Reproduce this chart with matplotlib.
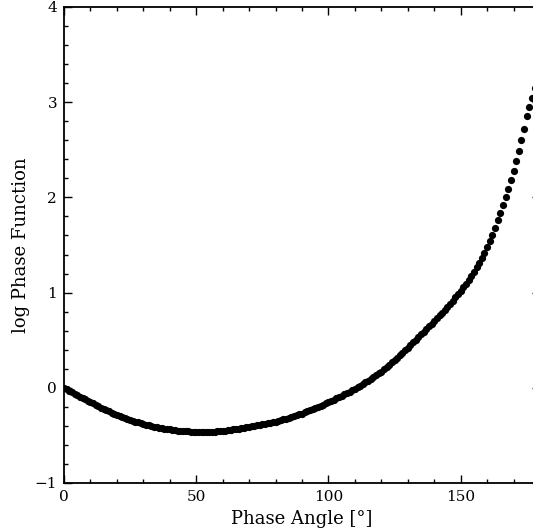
import matplotlib
matplotlib.use("Agg")
import matplotlib.pyplot as plt
from matplotlib.ticker import MultipleLocator

# phase angle in degrees, one point per degree
phase_angle = list(range(0, 179))

# log of the phase function
log_phase = [
    0.000, -0.016, -0.032, -0.047, -0.063, -0.078, -0.093, -0.107, -0.122, -0.136,
    -0.150, -0.164, -0.179, -0.193, -0.207, -0.221, -0.234, -0.247, -0.260, -0.273,
    -0.285, -0.296, -0.307, -0.318, -0.328, -0.338, -0.347, -0.356, -0.364, -0.372,
    -0.380, -0.387, -0.394, -0.401, -0.407, -0.413, -0.419, -0.424, -0.429, -0.434,
    -0.438, -0.442, -0.446, -0.449, -0.452, -0.455, -0.457, -0.459, -0.461, -0.462,
    -0.463, -0.464, -0.465, -0.465, -0.465, -0.464, -0.463, -0.461, -0.459, -0.457,
    -0.455, -0.451, -0.447, -0.442, -0.438, -0.433, -0.428, -0.424, -0.419, -0.415,
    -0.410, -0.405, -0.400, -0.395, -0.390, -0.385, -0.379, -0.373, -0.367, -0.361,
    -0.355, -0.347, -0.339, -0.331, -0.323, -0.315, -0.306, -0.297, -0.288, -0.279,
    -0.270, -0.259, -0.248, -0.237, -0.226, -0.215, -0.202, -0.189, -0.176, -0.163,
    -0.150, -0.137, -0.124, -0.111, -0.098, -0.085, -0.070, -0.055, -0.040, -0.025,
    -0.010, 0.007, 0.024, 0.041, 0.058, 0.075, 0.094, 0.113, 0.132, 0.151,
    0.170, 0.194, 0.218, 0.242, 0.266, 0.290, 0.316, 0.342, 0.368, 0.394,
    0.420, 0.448, 0.476, 0.504, 0.532, 0.560, 0.588, 0.616, 0.644, 0.672,
    0.700, 0.730, 0.760, 0.790, 0.820, 0.850, 0.883, 0.916, 0.949, 0.982,
    1.015, 1.054, 1.094, 1.135, 1.177, 1.220, 1.266, 1.314, 1.364, 1.420,
    1.480, 1.543, 1.610, 1.680, 1.758, 1.840, 1.922, 2.005, 2.092, 2.184,
    2.280, 2.380, 2.485, 2.600, 2.722, 2.850, 2.950, 3.040, 3.150,
]

plt.rcParams["font.family"] = "DejaVu Serif"

fig = plt.figure(figsize=(5.33, 5.31), dpi=100)
# axes run past the right edge of the figure, as in the reference
ax = fig.add_axes([64 / 533, 48 / 531, 476 / 533, 476 / 531])

ax.plot(phase_angle, log_phase, "o", color="black", markersize=5.2,
        markeredgewidth=0)

ax.set_xlim(0, 180)
ax.set_ylim(-1, 4)
ax.xaxis.set_major_locator(MultipleLocator(50))
ax.xaxis.set_minor_locator(MultipleLocator(10))
ax.yaxis.set_major_locator(MultipleLocator(1))
ax.yaxis.set_minor_locator(MultipleLocator(0.2))
ax.tick_params(which="both", direction="in", top=True, right=True,
               labelsize=11, width=1.0)
ax.tick_params(which="major", length=6, pad=5)
ax.tick_params(which="minor", length=3)
for s in ax.spines.values():
    s.set_linewidth(1.3)

ax.set_xlabel("Phase Angle [°]", fontsize=13, labelpad=4)
ax.set_ylabel("log Phase Function", fontsize=13, labelpad=3)

fig.savefig("out.png", dpi=100)
